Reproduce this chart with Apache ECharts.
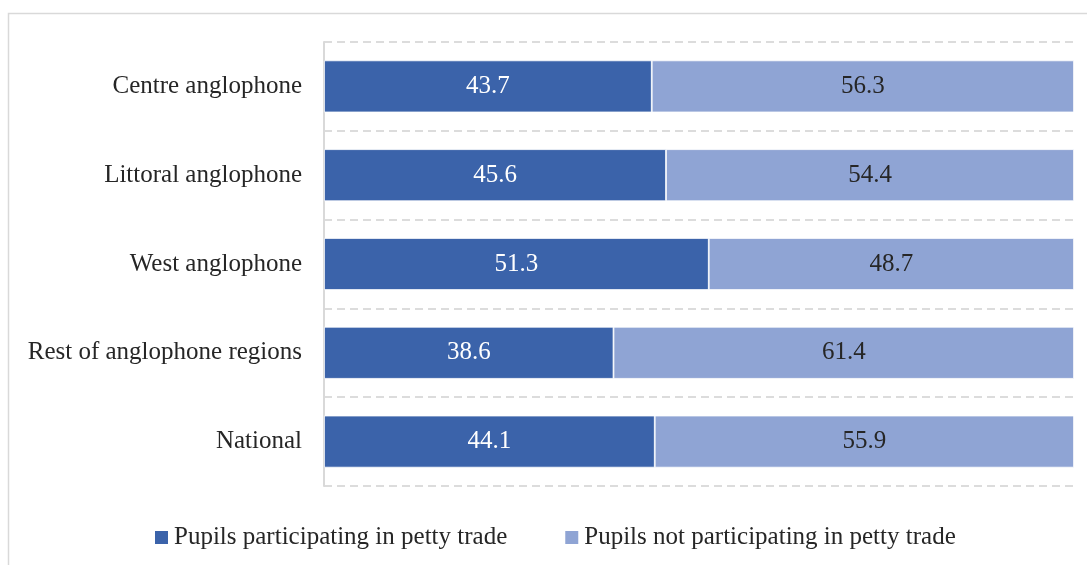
<!DOCTYPE html>
<html><head><meta charset="utf-8">
<script src="https://cdn.jsdelivr.net/npm/echarts@6/dist/echarts.min.js"></script>
<style>html,body{margin:0;padding:0;background:#fff;}#c{width:1087px;height:565px;}</style>
</head><body><div id="c"></div>
<script>
const categories = ["Centre anglophone","Littoral anglophone","West anglophone","Rest of anglophone regions","National"];
const participating = [43.7, 45.6, 51.3, 38.6, 44.1];
const notParticipating = [56.3, 54.4, 48.7, 61.4, 55.9];
const seriesNames = ["Pupils participating in petty trade","Pupils not participating in petty trade"];

const font = "Liberation Serif";
const chart = echarts.init(document.getElementById('c'), null, {renderer:'canvas'});
chart.setOption({
  animation:false,
  graphic:[{type:'rect', shape:{x:8.5,y:13.5,width:1200,height:700}, style:{fill:'none', stroke:'#d9d9d9', lineWidth:1.5}, silent:true, z:-10}],
  grid:{left:324, right:13, top:42, bottom:79},
  legend:{bottom:15, left:155, padding:0, itemWidth:13, itemHeight:13, itemGap:58, icon:'rect',
    itemStyle:{borderWidth:0},
    textStyle:{fontFamily:font, fontSize:25, color:'#262626', padding:[0,0,0,1]},
    data:seriesNames},
  xAxis:{type:'value', min:0, max:100, show:false, splitLine:{show:false}},
  yAxis:{type:'category', inverse:true, data:categories,
    axisLine:{show:true, lineStyle:{color:'#d9d9d9', width:2}},
    axisTick:{show:false},
    axisLabel:{fontFamily:font, fontSize:25, color:'#262626', margin:22},
    splitLine:{show:true, lineStyle:{color:'#dcdcdc', type:[8,5], width:2}}},
  series:[
    {name:seriesNames[0], type:'bar', stack:'s', data:participating, barWidth:'58.6%',
     itemStyle:{color:'#3b63aa', borderColor:'#ffffff', borderWidth:0.8},
     label:{show:true, position:'inside', fontFamily:font, fontSize:25, color:'#ffffff', formatter:p=>p.value.toFixed(1)}},
    {name:seriesNames[1], type:'bar', stack:'s', data:notParticipating, barWidth:'58.6%',
     itemStyle:{color:'#8fa4d4', borderColor:'#ffffff', borderWidth:0.8},
     label:{show:true, position:'inside', fontFamily:font, fontSize:25, color:'#262626', formatter:p=>p.value.toFixed(1)}}
  ]
});
</script></body></html>
